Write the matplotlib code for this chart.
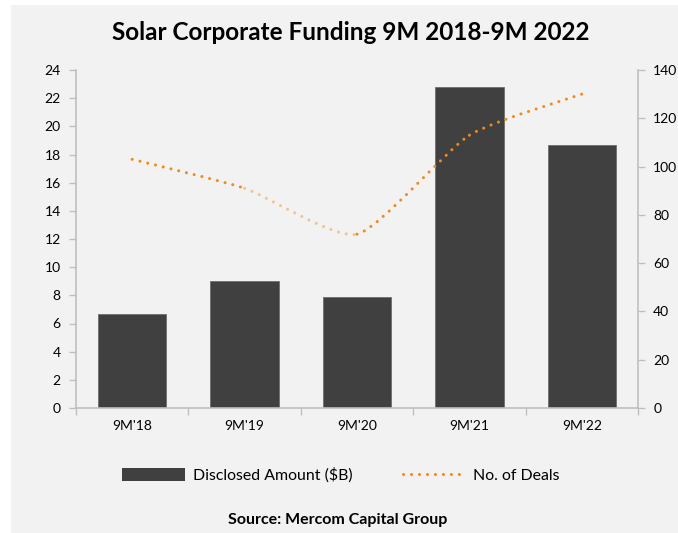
import numpy as np
import matplotlib.pyplot as plt
from matplotlib.path import Path
from matplotlib.patches import PathPatch, Rectangle, Patch
from matplotlib.lines import Line2D

plt.rcParams['font.family'] = ['Lato', 'DejaVu Sans']

# Chart data
periods = ["9M'18", "9M'19", "9M'20", "9M'21", "9M'22"]
amount = [6.7, 9.0, 7.9, 22.8, 18.7]        # disclosed amount, $B
deals = [103, 91, 72, 113, 130]              # number of deals
faded_segment = 1                             # 9M'19 -> 9M'20 drawn faded

bar_color = '#404040'
line_color = '#F08A1C'
axis_gray = '#BFBFBF'

fig = plt.figure(figsize=(6.78, 5.33), dpi=100, facecolor='white')
fig.patches.append(Rectangle((11 / 678, 0), 1, 1 - 5 / 533, transform=fig.transFigure,
                             facecolor='#F2F2F2', edgecolor='none', zorder=-1))

ax = fig.add_axes([76 / 678, 1 - 408 / 533, 562 / 678, 338 / 533])
ax.set_facecolor('none')
x = np.arange(len(periods))
ax.bar(x, amount, width=0.61, color=bar_color, edgecolor='#6E6E6E', linewidth=0.6, zorder=2)
ax.set_xlim(-0.5, len(periods) - 0.5)
ax.set_ylim(0, 24)
ax.set_yticks(np.arange(0, 25, 2))
ax.set_xticks(x, periods)
ax.set_xticks(np.arange(-0.5, len(periods)), minor=True)
ax.tick_params(axis='x', which='major', length=0, pad=9, labelsize=10)
ax.tick_params(axis='x', which='minor', length=5, color=axis_gray, width=1)
ax.tick_params(axis='y', length=5, color=axis_gray, width=1, labelsize=10, pad=6)
for side in ['top', 'right']:
    ax.spines[side].set_visible(False)
for side in ['left', 'bottom']:
    ax.spines[side].set_color(axis_gray)
    ax.spines[side].set_linewidth(1.2)

ax2 = ax.twinx()
ax2.set_ylim(0, 140)
ax2.set_yticks(np.arange(0, 141, 20))
ax2.tick_params(axis='y', length=5, color=axis_gray, width=1, labelsize=10, pad=6)
for side in ['top', 'left', 'bottom']:
    ax2.spines[side].set_visible(False)
ax2.spines['right'].set_color(axis_gray)
ax2.spines['right'].set_linewidth(1.2)

# lightly smoothed line (cubic Bezier segments through the data points)
pts = np.column_stack([x, deals]).astype(float)
ext = np.vstack([pts[0], pts, pts[-1]])
tension = 1 / 10
dot_style = (0, (0.01, 2.6))
for i in range(len(pts) - 1):
    p0, p1 = ext[i + 1], ext[i + 2]
    c1 = p0 + (ext[i + 2] - ext[i]) * tension
    c2 = p1 - (ext[i + 3] - ext[i + 1]) * tension
    path = Path([p0, c1, c2, p1], [Path.MOVETO, Path.CURVE4, Path.CURVE4, Path.CURVE4])
    alpha = 0.45 if i == faded_segment else 1.0
    ax2.add_patch(PathPatch(path, fill=False, edgecolor=line_color, linewidth=2.2,
                            linestyle=dot_style, capstyle='round', alpha=alpha, zorder=3))

fig.text(351 / 678, 1 - 32 / 533, 'Solar Corporate Funding 9M 2018-9M 2022',
         ha='center', va='center', fontsize=17.5, fontweight='bold')

handles = [Patch(facecolor=bar_color, edgecolor='none'),
           Line2D([], [], color=line_color, linewidth=2.2, linestyle=dot_style,
                  dash_capstyle='round')]
fig.legend(handles, ['Disclosed Amount ($B)', 'No. of Deals'], loc='center',
           bbox_to_anchor=(341 / 678, 1 - 475 / 533), ncol=2, frameon=False, fontsize=11.4,
           handlelength=4.0, handleheight=0.9, handletextpad=0.45, columnspacing=3.2)

fig.text(338 / 678, 1 - 520 / 533, 'Source: Mercom Capital Group', ha='center', va='center',
         fontsize=11.5, fontweight='bold')

fig.savefig('out.png', dpi=100, facecolor=fig.get_facecolor())
